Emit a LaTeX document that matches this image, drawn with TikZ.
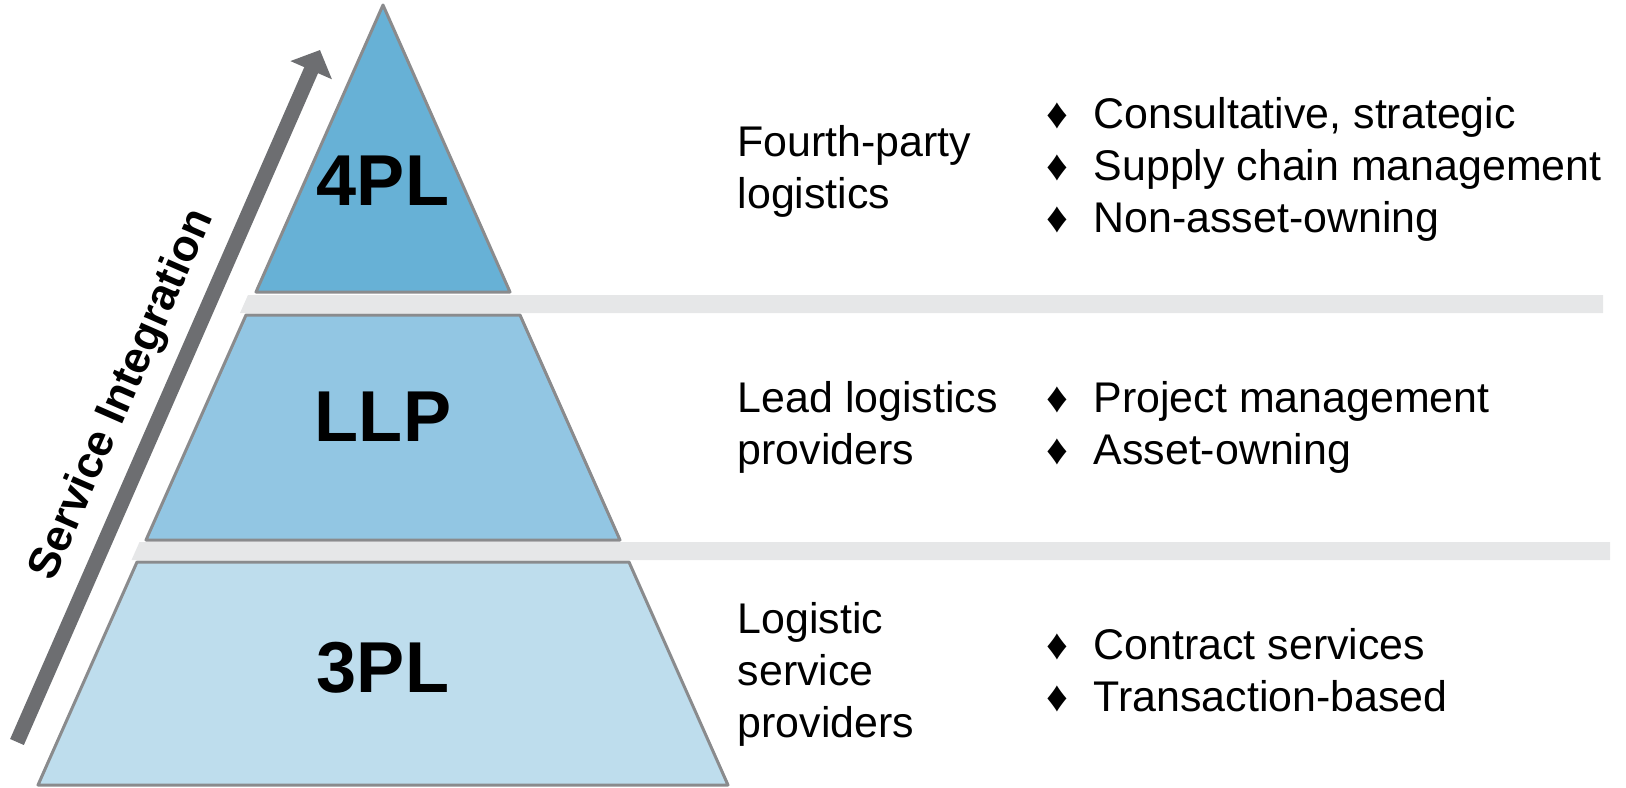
\documentclass[tikz,border=0pt]{standalone}
\usepackage{fontspec}
\setmainfont{Liberation Sans}
\usetikzlibrary{arrows.meta}
\definecolor{tierfour}{HTML}{67B1D6}
\definecolor{tierlead}{HTML}{92C6E3}
\definecolor{tierthree}{HTML}{BEDDED}
\definecolor{bargray}{HTML}{E6E7E8}
\definecolor{edgegray}{HTML}{8A8B8D}
\definecolor{arrowgray}{HTML}{6D6E71}
\newcommand\bul{\makebox[0.47cm][l]{♦}}
\begin{document}
\begin{tikzpicture}[x=0.01cm,y=-0.01cm,
  band/.style={draw=edgegray,line width=0.03cm,line join=round},
  tier/.style={font=\bfseries\fontsize{20.5pt}{24pt}\selectfont},
  lab/.style={font=\fontsize{12.2pt}{0.52cm}\selectfont,align=left,anchor=west,inner sep=0pt}]
\useasboundingbox (0,0) rectangle (1626,787);
\fill[bargray] (248,295)--(1603,295)--(1603,313)--(240,313)--cycle;
\fill[bargray] (139.5,542)--(1610,542)--(1610,560)--(131.5,560)--cycle;
\draw[band,fill=tierfour] (383,5)--(510,292)--(256,292)--cycle;
\draw[band,fill=tierlead] (246,315)--(520,315)--(620,540)--(146,540)--cycle;
\draw[band,fill=tierthree] (137,562)--(629,562)--(728,785)--(38,785)--cycle;
\node[tier] (fourpl) at (383,181) {4PL};
\node[tier] (llp) at (383,417) {LLP};
\node[tier] (threepl) at (383,668) {3PL};
\coordinate (tail) at (17,742);
\coordinate (tip) at (320,50);
\draw[arrowgray,line width=0.15cm,-{Triangle[length=0.22cm,width=0.44cm]}] (tail)--(tip);
\node[rotate=66.35,font=\bfseries\fontsize{12.6pt}{14pt}\selectfont] (integration) at (123,395) {Service Integration};
\node[lab] (fourname) at (737,171.5) {Fourth-party\\logistics};
\node[lab] (fourlist) at (1046,169.8) {\bul Consultative, strategic\\\bul Supply chain management\\\bul Non-asset-owning};
\node[lab] (leadname) at (737,427.8) {Lead logistics\\providers};
\node[lab] (leadlist) at (1046,427.8) {\bul Project management\\\bul Asset-owning};
\node[lab] (threename) at (737,674.8) {Logistic\\service\\providers};
\node[lab] (threelist) at (1046,670.3) {\bul Contract services\\\bul Transaction-based};
\end{tikzpicture}
\end{document}
